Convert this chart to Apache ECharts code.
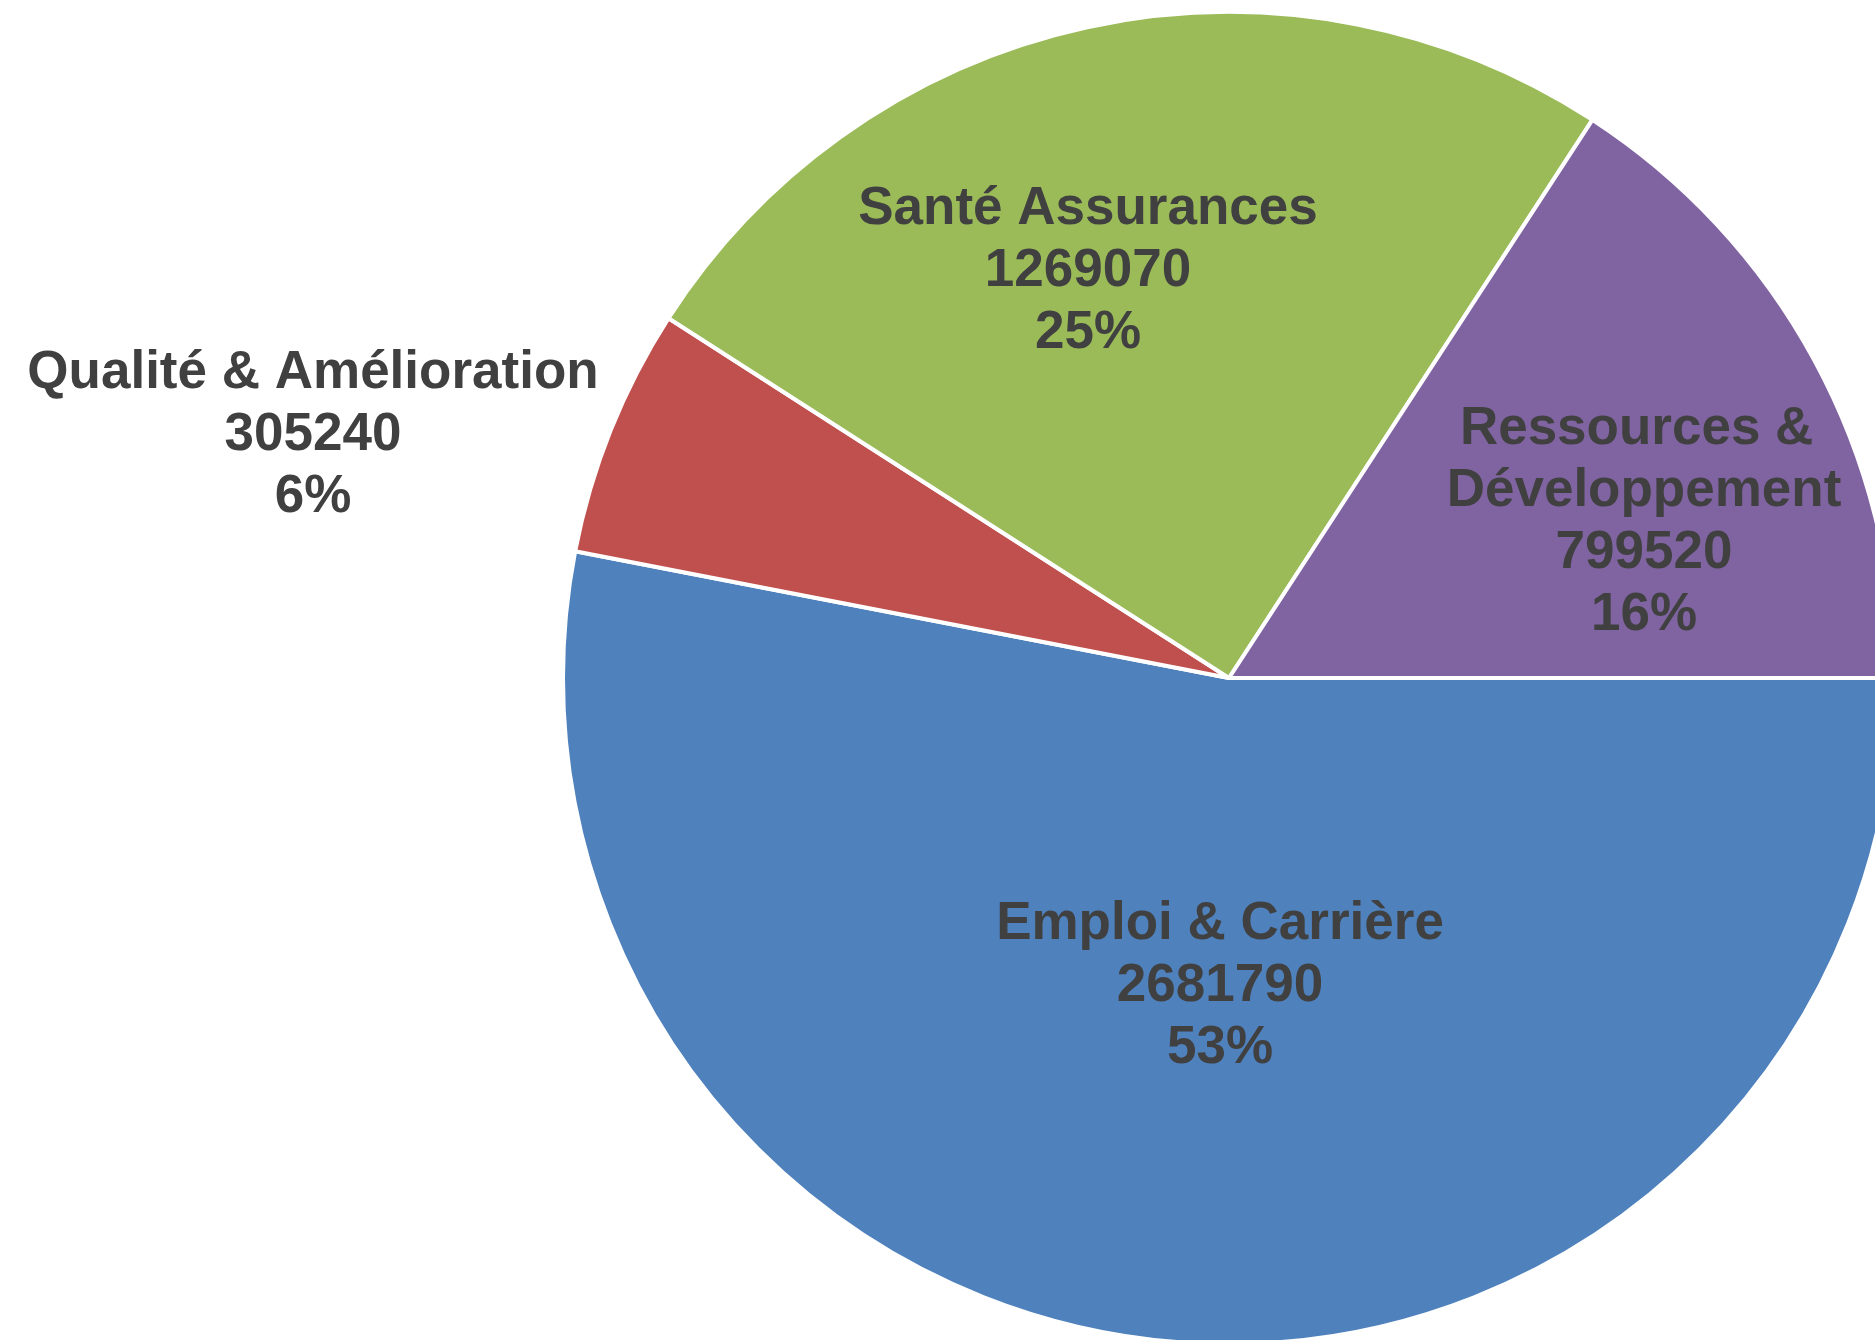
<!DOCTYPE html>
<html>
<head>
<meta charset="utf-8">
<script src="https://cdn.jsdelivr.net/npm/echarts@6/dist/echarts.min.js"></script>
<style>
html, body { margin: 0; padding: 0; background: #fff; }
#chart { width: 1875px; height: 1340px; }
</style>
</head>
<body>
<div id="chart"></div>
<script>
// données du graphique
const categories = ['Emploi & Carrière', 'Qualité & Amélioration', 'Santé Assurances', 'Ressources & Développement'];
const values = [2681790, 305240, 1269070, 799520];
const colors = ['#4F81BD', '#C0504D', '#9BBB59', '#8064A2'];

// position des étiquettes (centre du bloc de texte)
const labelPos = [[1220, 986], [313, 435], [1088, 271], [1644, 522]];

const chart = echarts.init(document.getElementById('chart'));
const option = {
  animation: false,
  series: [
    {
      type: 'pie',
      center: [1229, 678],
      radius: 666,
      startAngle: 0,
      clockwise: true,
      percentPrecision: 0,
      itemStyle: {
        borderColor: '#fff',
        borderWidth: 4
      },
      label: {
        show: true,
        position: 'inside',
        formatter: '{b}\n{c}\n{d}%',
        color: '#404040',
        fontFamily: 'Liberation Sans, Arial, sans-serif',
        fontWeight: 'bold',
        fontSize: 53,
        lineHeight: 62,
        align: 'center'
      },
      labelLine: { show: false },
      labelLayout: function (params) {
        const p = labelPos[params.dataIndex];
        return { x: p[0], y: p[1], align: 'center', verticalAlign: 'middle' };
      },
      emphasis: { disabled: true },
      data: categories.map((name, i) => ({
        name: name,
        value: values[i],
        itemStyle: { color: colors[i] },
        label: i === 3 ? { width: 450, overflow: 'break' } : {}
      }))
    }
  ]
};
chart.setOption(option);
</script>
</body>
</html>
